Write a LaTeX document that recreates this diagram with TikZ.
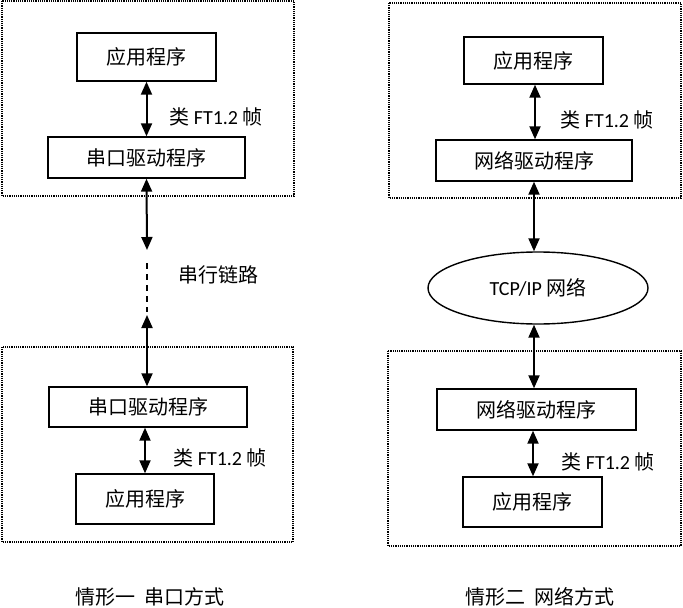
\documentclass[tikz,border=0pt]{standalone}
\usepackage{fontspec}
\setmainfont{Carlito}
\newfontfamily\cjk{Noto Sans CJK SC}
\usetikzlibrary{arrows.meta,shapes.geometric}

\begin{document}
\begin{tikzpicture}[x=1pt,y=-1pt,
  prog/.style={draw, line width=1.4pt, inner sep=0pt, font=\fontsize{20}{24}\cjk},
  frame/.style={draw, line width=1.2pt, dash pattern=on 1.2pt off 1pt},
  link/.style={line width=2pt, {Triangle[width=11pt,length=13pt]}-{Triangle[width=11pt,length=13pt]}},
  lbl/.style={font=\fontsize{20}{24}\selectfont}]
  \useasboundingbox (0,0) rectangle (683,608);

  % Draw the dotted frames
  \draw[frame] (2,1) rectangle (294,196);
  \draw[frame] (2,347) rectangle (293,542);
  \draw[frame] (389,3) rectangle (681,198);
  \draw[frame] (388,351) rectangle (681,546);

  % Left side: serial link
  \node[prog, minimum width=139, minimum height=48] (appTL) at (146.5,57) {应用程序};
  \node[prog, minimum width=197, minimum height=41] (drvTL) at (146.5,157.5) {串口驱动程序};
  \node[prog, minimum width=198, minimum height=40] (drvBL) at (148,407) {串口驱动程序};
  \node[prog, minimum width=138, minimum height=50] (appBL) at (145,499) {应用程序};
  \coordinate (linkA) at (147,250);
  \coordinate (linkB) at (147,315);

  \draw[link] (appTL.south) -- (appTL.south |- drvTL.north);
  \draw[link] (drvTL.south) -- (linkA);
  \draw[line width=1.3pt, dash pattern=on 6pt off 5pt] (147,263) -- (147,312);
  \draw[link] (linkB) -- (linkB |- drvBL.north);
  \draw[link] (drvBL.south -| appBL.north) -- (appBL.north);

  \node[lbl] (ftTL) at (216,117) {{\cjk 类} FT1.2 {\cjk 帧}};
  \node[lbl, font=\fontsize{20}{24}\cjk] (serLab) at (218,275) {串行链路};
  \node[lbl] (ftBL) at (220,458) {{\cjk 类} FT1.2 {\cjk 帧}};

  % Right side: network
  \node[prog, minimum width=139, minimum height=47] (appTR) at (533.5,60.5) {应用程序};
  \node[prog, minimum width=196, minimum height=41] (drvTR) at (534,160.5) {网络驱动程序};
  \node[draw, ellipse, line width=1.4pt, inner sep=0pt, minimum width=220, minimum height=72, lbl] (net) at (538,288) {TCP/IP {\cjk 网络}};
  \node[prog, minimum width=199, minimum height=41] (drvBR) at (536.5,409.5) {网络驱动程序};
  \node[prog, minimum width=139, minimum height=50] (appBR) at (532.5,502) {应用程序};

  \draw[link] (appTR.south -| 535,0) -- (drvTR.north -| 535,0);
  \draw[link] (drvTR.south) -- (drvTR.south |- net.north);
  \draw[link] (net.south -| 534,0) -- (drvBR.north -| 534,0);
  \draw[link] (drvBR.south -| 533,0) -- (appBR.north -| 533,0);

  \node[lbl] (ftTR) at (607,120) {{\cjk 类} FT1.2 {\cjk 帧}};
  \node[lbl] (ftBR) at (608,462) {{\cjk 类} FT1.2 {\cjk 帧}};

  % Captions
  \node[lbl, font=\fontsize{20}{24}\cjk] (capL) at (150,597) {情形一\ \ 串口方式};
  \node[lbl, font=\fontsize{20}{24}\cjk] (capR) at (540,597) {情形二\ \ 网络方式};
\end{tikzpicture}
\end{document}
